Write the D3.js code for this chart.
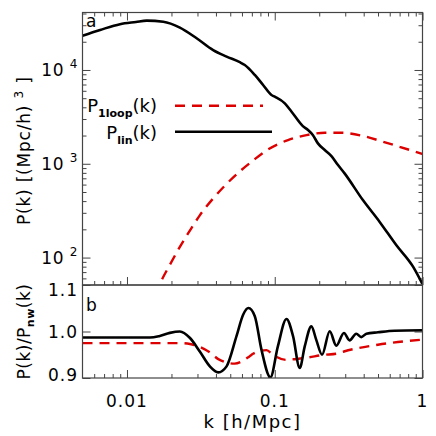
<!DOCTYPE html>
<html>
<head>
<meta charset="utf-8">
<script src="https://cdn.jsdelivr.net/npm/d3@7"></script>
<style>
  body { margin: 0; background: #fff; }
  svg { display: block; font-family: "DejaVu Sans", sans-serif; }
</style>
</head>
<body>
<svg id="chart" width="436" height="436"></svg>
<script>
// linear power spectrum [k (h/Mpc), P ((Mpc/h)^3)]
const linK = [0.005, 0.00658, 0.00897, 0.0115, 0.0136, 0.0176, 0.0228, 0.0296, 0.0383, 0.0472,
    0.058, 0.0627, 0.0733, 0.0834, 0.095, 0.1, 0.117, 0.13, 0.155, 0.168, 0.181, 0.196,
    0.218, 0.242, 0.268, 0.297, 0.395, 0.513, 0.666, 0.865, 1.0];
const linP = [23200, 26700, 30800, 32500, 33600, 32700, 28300, 21800, 16300, 13900,
    12100, 11300, 8850, 6920, 5410, 5190, 4410, 3590, 2520, 2290, 2025, 1650,
    1400, 1208, 969, 790, 410, 240, 135, 79.5, 52];

// one-loop term
const loopK = [0.0155, 0.0167, 0.0195, 0.0228, 0.0267, 0.0311, 0.0383, 0.0472, 0.058, 0.0715,
    0.0902, 0.123, 0.164, 0.218, 0.283, 0.395, 0.54, 0.7, 1.0];
const loopP = [40, 52.5, 83.6, 130, 195, 282, 427, 610, 829, 1086,
    1422, 1790, 2020, 2140, 2140, 1980, 1720, 1518, 1270];

// panel b: P/P_nw
const ratioK = [0.005, 0.0143, 0.0165, 0.0195, 0.0228, 0.0267, 0.0311, 0.0364, 0.0414, 0.0472,
    0.0551, 0.0611, 0.0664, 0.0733, 0.0813, 0.0935, 0.105, 0.12, 0.133, 0.1476,
    0.1596, 0.177, 0.191, 0.209, 0.2355, 0.261, 0.294, 0.321, 0.356, 0.385,
    0.417, 0.499, 0.647, 1.0];
const ratioLin = [0.987, 0.987, 0.990, 0.997, 1.000, 0.986, 0.957, 0.925, 0.912, 0.925,
    0.990, 1.036, 1.0505, 1.033, 0.961, 0.9015, 0.968, 1.027, 0.990, 0.9215,
    0.968, 1.011, 0.982, 0.950, 1.0004, 0.9695, 0.9968, 0.981, 0.9953, 0.988,
    0.9953, 0.9983, 1.0017, 1.0026];
const ratioLoopK = [0.005, 0.0228, 0.0267, 0.0311, 0.0364, 0.0418, 0.0534, 0.0677, 0.0713, 0.0879,
    0.0975, 0.12, 0.14, 0.164, 0.212, 0.268, 0.294, 0.499, 1.0];
const ratioLoop = [0.975, 0.975, 0.973, 0.967, 0.955, 0.940, 0.931, 0.947, 0.952, 0.960,
    0.9495, 0.939, 0.941, 0.9437, 0.9495, 0.953, 0.957, 0.9716, 0.9824];

const xMajor = [0.01, 0.1, 1];
const xLabels = ["0.01", "0.1", "1"];
const yMajor = [100, 1000, 10000];
const yExp = ["2", "3", "4"];
const rMajor = [0.9, 1.0, 1.1];
const rLabels = ["0.9", "1.0", "1.1"];

const red = "#dd0000";
const frameColor = "#444";
const L = 82.5, R = 422.5;
const topA = 12.5, botA = 285, botB = 378;

const svg = d3.select("#chart");

const x = d3.scaleLog().domain([0.005, 1]).range([L, R]);
const y = d3.scaleLog().domain([51, 41000]).range([botA, topA]);
const yr = d3.scaleLinear().domain([0.9, 1.1]).range([botB, botA]);

// minor log ticks between decades
function logMinors(lo, hi) {
    const out = [];
    for (let e = Math.floor(Math.log10(lo)); e <= Math.ceil(Math.log10(hi)); e++) {
        for (let m = 2; m <= 9; m++) {
            const v = m * Math.pow(10, e);
            if (v > lo * 1.0001 && v < hi * 0.9999) out.push(v);
        }
    }
    return out;
}
const xMinor = logMinors(0.005, 1);
const yMinor = logMinors(51, 41000);

// clip paths
const defs = svg.append("defs");
defs.append("clipPath").attr("id", "clipA").append("rect")
    .attr("x", L).attr("y", topA).attr("width", R - L).attr("height", botA - topA);
defs.append("clipPath").attr("id", "clipB").append("rect")
    .attr("x", L).attr("y", botA).attr("width", R - L).attr("height", botB - botA);

// tick helper: d3 axis with no domain line; negative size = inward for bottom/left
function ticks(axisFn, scale, values, size, tx, ty) {
    svg.append("g")
        .attr("transform", `translate(${tx},${ty})`)
        .call(axisFn(scale).tickValues(values).tickSize(size).tickFormat(""))
        .call(g => g.select(".domain").remove())
        .call(g => g.selectAll("line").attr("stroke", frameColor).attr("stroke-width", 1));
}

// panel a ticks
ticks(d3.axisBottom, x, xMajor, -8, 0, botA);
ticks(d3.axisBottom, x, xMinor, -4, 0, botA);
ticks(d3.axisBottom, x, xMajor, 8, 0, topA);
ticks(d3.axisBottom, x, xMinor, 4, 0, topA);
ticks(d3.axisLeft, y, yMajor, -8, L, 0);
ticks(d3.axisLeft, y, yMinor, -4, L, 0);
ticks(d3.axisLeft, y, yMajor, 8, R, 0);
ticks(d3.axisLeft, y, yMinor, 4, R, 0);

// panel b ticks
ticks(d3.axisBottom, x, xMajor, -8, 0, botB);
ticks(d3.axisBottom, x, xMinor, -4, 0, botB);
ticks(d3.axisLeft, yr, rMajor, -8, L, 0);
ticks(d3.axisLeft, yr, rMajor, 8, R, 0);

// curves
const lineA = d3.line().x(d => x(d[0])).y(d => y(d[1])).curve(d3.curveMonotoneX);
const lineB = d3.line().x(d => x(d[0])).y(d => yr(d[1])).curve(d3.curveMonotoneX);

const gA = svg.append("g").attr("clip-path", "url(#clipA)");
gA.append("path")
    .datum(d3.zip(loopK, loopP))
    .attr("d", lineA)
    .attr("fill", "none").attr("stroke", red).attr("stroke-width", 2.4)
    .attr("stroke-dasharray", "10,7");
gA.append("path")
    .datum(d3.zip(linK, linP))
    .attr("d", lineA)
    .attr("fill", "none").attr("stroke", "#000").attr("stroke-width", 2.6);

const gB = svg.append("g").attr("clip-path", "url(#clipB)");
gB.append("path")
    .datum(d3.zip(ratioLoopK, ratioLoop))
    .attr("d", lineB)
    .attr("fill", "none").attr("stroke", red).attr("stroke-width", 2.4)
    .attr("stroke-dasharray", "10,7");
gB.append("path")
    .datum(d3.zip(ratioK, ratioLin))
    .attr("d", lineB)
    .attr("fill", "none").attr("stroke", "#000").attr("stroke-width", 2.6);

// frames
svg.append("rect").attr("x", L).attr("y", topA).attr("width", R - L).attr("height", botA - topA)
    .attr("fill", "none").attr("stroke", frameColor).attr("stroke-width", 1.2);
svg.append("rect").attr("x", L).attr("y", botA).attr("width", R - L).attr("height", botB - botA)
    .attr("fill", "none").attr("stroke", frameColor).attr("stroke-width", 1.2);

// tick labels
const fs = 17;
svg.append("g").selectAll("text")
    .data(xMajor)
    .join("text")
    .attr("x", d => x(d))
    .attr("y", 407)
    .attr("text-anchor", "middle")
    .attr("font-size", fs)
    .attr("letter-spacing", 1)
    .text((d, i) => xLabels[i]);

const yl = svg.append("g").selectAll("text")
    .data(yMajor)
    .join("text")
    .attr("x", 78)
    .attr("y", d => y(d) + 6)
    .attr("text-anchor", "end")
    .attr("font-size", fs)
    .attr("letter-spacing", 0.5);
yl.append("tspan").text("10 ");
yl.append("tspan").attr("dy", -8).attr("font-size", 12).text((d, i) => yExp[i]);

svg.append("g").selectAll("text")
    .data(rMajor)
    .join("text")
    .attr("x", 78)
    .attr("y", d => Math.min(Math.max(yr(d), 290), 375) + 6)
    .attr("text-anchor", "end")
    .attr("font-size", fs)
    .attr("letter-spacing", 1)
    .text((d, i) => rLabels[i]);

// axis titles
const tA = svg.append("text")
    .attr("transform", `translate(30,${(topA + botA) / 2 + 2}) rotate(-90)`)
    .attr("text-anchor", "middle")
    .attr("font-size", fs)
    .attr("letter-spacing", 0.8);
tA.append("tspan").text("P(k)  [(Mpc/h) ");
tA.append("tspan").attr("dy", -7).attr("font-size", 12).text("3");
tA.append("tspan").attr("dy", 7).text(" ]");

const tB = svg.append("text")
    .attr("transform", `translate(30,${(botA + botB) / 2}) rotate(-90)`)
    .attr("text-anchor", "middle")
    .attr("font-size", fs)
    .attr("letter-spacing", 0.5);
tB.append("tspan").text("P(k)/P");
tB.append("tspan").attr("dy", 4).attr("font-size", 11).attr("font-weight", "bold").text("nw");
tB.append("tspan").attr("dy", -4).text("(k)");

svg.append("text")
    .attr("x", (L + R) / 2)
    .attr("y", 428)
    .attr("text-anchor", "middle")
    .attr("font-size", fs + 1)
    .attr("letter-spacing", 1.5)
    .text("k  [h/Mpc]");

// panel letters
svg.append("text").attr("x", 86).attr("y", 27).attr("font-size", fs).text("a");
svg.append("text").attr("x", 86).attr("y", 311).attr("font-size", fs).text("b");

// legend
const legend = [
    {name: "P", sub: "1loop", y: 112, ly: 105.7, x2: 263, color: red, dash: "10,7"},
    {name: "P", sub: "lin", y: 139, ly: 131.7, x2: 272, color: "#000", dash: null}
];
const lg = svg.append("g").selectAll("g").data(legend).join("g");
const lt = lg.append("text")
    .attr("x", 157).attr("y", d => d.y)
    .attr("text-anchor", "end")
    .attr("font-size", fs + 1);
lt.append("tspan").text(d => d.name);
lt.append("tspan").attr("dy", 5).attr("font-size", 11).attr("font-weight", "bold").text(d => d.sub);
lt.append("tspan").attr("dy", -5).text("(k)");
lg.append("line")
    .attr("x1", 175).attr("x2", d => d.x2)
    .attr("y1", d => d.ly).attr("y2", d => d.ly)
    .attr("stroke", d => d.color)
    .attr("stroke-width", d => d.dash ? 2.4 : 2.6)
    .attr("stroke-dasharray", d => d.dash);
</script>
</body>
</html>
